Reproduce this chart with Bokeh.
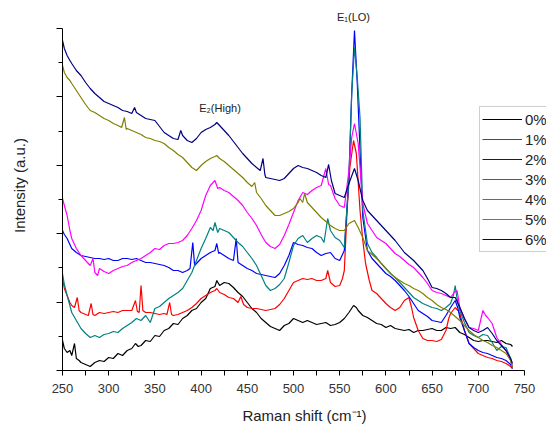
from bokeh.plotting import figure
from bokeh.models import Range1d, FixedTicker, Legend, LegendItem, Label
from bokeh.embed import file_html
from bokeh.resources import INLINE

FONT = "Liberation Sans"

names = ["0%", "1%", "2%", "3%", "4%", "5%", "6%"]
colors = ["#000000", "#ff0000", "#0000ff", "#008080", "#ff00ff", "#808000", "#000080"]

# (Raman shift, intensity) readings per series
s0 = [(250,30),(252,22),(255,18),(258,20),(260,15),(263,27),(265,12),(268,10),(270,8),(275,6),(280,4),(285,8),(290,10),(295,9),(300,13),(305,12),(310,17),(315,15),(320,20),(325,22),(329,27),(332,24),(335,25),(340,30),(345,29),(350,35),(355,34),(360,40),(365,42),(370,47),(375,46),(380,52),(385,55),(390,60),(395,62),(400,68),(405,72),(410,82),(415,84),(417,90),(420,85),(425,88),(430,87),(435,83),(440,78),(445,74),(450,68),(455,62),(460,58),(465,52),(470,48),(475,44),(480,42),(485,40),(490,45),(495,47),(500,52),(505,50),(510,48),(515,50),(520,48),(525,46),(530,47),(535,48),(540,45),(545,46),(550,48),(555,52),(560,58),(565,65),(568,63),(570,60),(575,55),(580,53),(585,50),(590,47),(595,46),(600,43),(605,45),(610,42),(615,41),(620,40),(625,41),(630,38),(635,40),(640,40),(645,41),(650,42),(655,40),(660,40),(665,43),(670,42),(675,43),(680,38),(685,36),(690,33),(695,30),(700,29),(705,30),(710,30),(715,29),(720,28),(725,30),(730,27),(735,26),(737,24)]
s1 = [(250,92),(252,82),(255,75),(258,68),(260,65),(263,63),(266,73),(268,60),(270,58),(275,56),(278,55),(281,67),(283,56),(285,55),(290,58),(295,57),(300,58),(305,59),(310,58),(315,60),(320,60),(325,60),(329,70),(331,59),(333,58),(335,85),(337,60),(340,58),(345,58),(350,57),(355,56),(360,57),(363,56),(366,68),(368,56),(370,55),(375,56),(380,58),(385,60),(390,63),(395,67),(400,72),(405,75),(410,78),(415,80),(417,82),(420,78),(425,76),(430,73),(435,72),(440,68),(443,74),(446,66),(450,63),(455,62),(460,62),(465,61),(470,60),(475,61),(480,62),(485,66),(490,72),(495,80),(500,88),(505,90),(510,92),(515,91),(520,92),(525,90),(530,90),(535,92),(537,100),(540,88),(545,84),(550,85),(553,92),(555,100),(558,160),(561,203),(565,230),(568,217),(572,160),(575,130),(578,107),(582,90),(585,80),(590,77),(595,72),(600,67),(605,63),(610,60),(615,63),(620,70),(625,73),(628,62),(630,53),(635,40),(640,32),(645,30),(650,30),(655,29),(660,31),(665,40),(668,52),(670,57),(675,63),(678,60),(680,57),(685,40),(690,27),(695,22),(700,17),(705,15),(710,13),(715,12),(720,10),(725,9),(730,7),(735,4),(737,2)]
s2 = [(250,140),(252,136),(255,132),(258,126),(260,122),(265,118),(270,115),(275,114),(280,113),(285,112),(290,112),(295,111),(300,112),(305,110),(310,110),(315,112),(320,112),(325,111),(330,112),(335,110),(340,108),(345,108),(350,107),(355,106),(360,105),(365,103),(370,100),(375,100),(380,98),(385,100),(388,102),(391,128),(393,105),(396,108),(400,112),(405,115),(410,118),(415,120),(417,127),(419,117),(420,118),(425,115),(430,112),(435,110),(438,132),(440,108),(445,105),(450,102),(455,100),(460,97),(465,96),(470,95),(475,94),(480,93),(485,97),(490,105),(495,115),(500,128),(505,126),(510,125),(515,123),(520,122),(525,118),(530,115),(535,117),(540,118),(545,112),(550,110),(555,120),(560,193),(563,277),(566,340),(569,287),(572,220),(575,153),(580,120),(585,112),(590,107),(595,102),(600,97),(605,94),(610,90),(615,85),(620,80),(625,74),(630,67),(635,60),(640,57),(645,54),(650,50),(655,49),(660,48),(665,55),(670,63),(675,70),(678,62),(680,53),(685,40),(690,27),(695,23),(700,20),(705,18),(710,17),(715,15),(720,13),(725,12),(730,10),(735,6),(737,2)]
s3 = [(250,97),(252,86),(255,75),(258,65),(260,58),(265,50),(270,42),(275,37),(280,33),(285,35),(290,33),(295,36),(300,37),(305,39),(310,38),(315,42),(320,45),(325,48),(330,52),(335,50),(340,55),(345,48),(350,62),(355,64),(360,68),(365,72),(370,75),(375,78),(380,82),(385,90),(390,98),(395,110),(400,122),(405,132),(410,143),(413,140),(415,148),(418,138),(420,142),(425,140),(430,138),(435,133),(440,128),(445,124),(450,118),(455,112),(460,105),(465,95),(470,85),(475,80),(480,82),(485,86),(490,92),(495,108),(500,125),(505,132),(510,135),(515,128),(520,132),(525,135),(530,133),(533,128),(537,152),(540,140),(545,133),(550,130),(555,123),(560,193),(563,277),(566,323),(569,293),(572,253),(575,160),(580,127),(585,118),(590,113),(595,107),(600,102),(605,97),(610,93),(615,88),(620,83),(625,78),(630,73),(635,70),(640,67),(645,65),(650,63),(655,62),(660,60),(665,63),(670,67),(673,75),(675,85),(677,72),(680,60),(685,48),(690,38),(695,35),(700,33),(705,36),(710,35),(715,28),(720,20),(725,24),(730,23),(735,12),(737,3)]
s4 = [(250,172),(252,165),(255,155),(258,140),(260,132),(265,122),(270,115),(275,110),(280,105),(283,112),(285,98),(288,95),(290,102),(295,99),(300,97),(305,100),(310,102),(315,104),(320,105),(325,108),(330,110),(335,112),(340,115),(345,118),(350,122),(355,121),(360,125),(365,127),(370,127),(375,128),(380,130),(385,135),(390,142),(395,150),(400,160),(405,175),(410,185),(413,188),(415,190),(418,182),(420,183),(425,180),(430,178),(435,174),(440,170),(445,165),(450,158),(455,152),(460,145),(465,136),(470,128),(475,124),(480,122),(485,126),(490,135),(495,146),(500,158),(505,170),(510,178),(515,176),(520,180),(525,183),(530,185),(535,202),(538,186),(540,185),(545,172),(550,165),(555,163),(560,200),(563,233),(566,247),(570,227),(575,167),(580,147),(585,140),(590,133),(595,130),(600,127),(605,122),(610,117),(615,114),(620,110),(625,106),(630,103),(635,98),(640,93),(645,87),(650,80),(655,78),(660,77),(665,75),(670,73),(674,78),(677,80),(680,63),(685,52),(690,43),(695,42),(700,40),(703,52),(705,60),(708,55),(710,53),(715,47),(720,33),(725,26),(730,20),(735,10),(737,3)]
s5 = [(250,305),(252,298),(255,293),(258,290),(260,287),(265,280),(270,273),(275,266),(280,260),(285,258),(290,255),(295,252),(300,250),(305,247),(310,245),(314,243),(317,253),(319,241),(320,242),(325,240),(330,238),(335,236),(340,233),(345,232),(350,230),(355,229),(360,227),(365,223),(370,220),(375,216),(380,213),(385,208),(390,203),(395,200),(400,205),(405,209),(410,212),(415,214),(417,215),(420,212),(425,209),(430,205),(435,201),(440,197),(445,193),(450,188),(455,184),(458,188),(460,178),(465,172),(470,165),(475,160),(480,155),(485,155),(490,157),(495,159),(500,162),(505,168),(507,172),(510,168),(512,177),(515,168),(520,163),(525,158),(530,153),(535,149),(540,145),(545,142),(550,140),(555,140),(560,147),(566,150),(570,143),(575,133),(580,120),(585,116),(590,112),(595,107),(600,102),(605,97),(610,93),(615,90),(620,87),(625,85),(630,82),(635,80),(640,77),(645,73),(650,70),(655,66),(660,63),(665,61),(670,58),(675,54),(680,50),(685,45),(690,40),(695,36),(700,33),(705,30),(710,28),(715,25),(720,23),(725,20),(730,17),(735,10),(737,3)]
s6 = [(250,330),(252,322),(255,315),(258,310),(260,307),(265,300),(270,295),(275,288),(280,282),(285,277),(290,273),(295,269),(300,267),(305,265),(310,263),(315,260),(320,259),(325,257),(328,263),(330,258),(335,255),(340,252),(345,251),(350,250),(355,244),(360,238),(365,235),(370,232),(375,231),(378,240),(380,235),(385,230),(390,228),(395,232),(400,238),(405,241),(410,243),(415,246),(417,248),(420,245),(425,240),(430,235),(435,229),(440,223),(445,217),(450,212),(455,207),(460,203),(464,200),(467,212),(469,196),(470,193),(475,192),(480,191),(485,190),(490,192),(495,197),(500,202),(505,205),(510,203),(515,202),(520,200),(525,198),(530,195),(535,193),(538,206),(541,190),(545,177),(550,175),(555,173),(560,187),(566,202),(570,190),(575,170),(580,160),(585,155),(590,150),(595,145),(600,140),(605,135),(610,130),(615,124),(620,118),(625,114),(630,110),(635,105),(640,100),(645,92),(650,83),(655,82),(660,80),(665,77),(670,73),(675,73),(680,63),(685,52),(690,43),(695,40),(700,38),(705,40),(710,43),(715,37),(720,30),(725,25),(730,20),(735,12),(737,7)]

series = [s0, s1, s2, s3, s4, s5, s6]

x_major = [250, 300, 350, 400, 450, 500, 550, 600, 650, 700, 750]
x_minor = [275, 325, 375, 425, 475, 525, 575, 625, 675, 725]
y_major = [0, 68.4, 136.8, 205.2, 273.6, 342]
y_minor = [34.2, 102.6, 171.0, 239.4, 307.8]

p = figure(width=546, height=430, output_backend="svg", toolbar_location=None,
           x_range=Range1d(250, 250 + 484 / 0.924), y_range=Range1d(0, 370),
           min_border_left=62, min_border_right=0, min_border_top=0, min_border_bottom=60)
p.outline_line_color = None
p.grid.visible = False
p.background_fill_color = "white"
p.border_fill_color = "white"

items = []
for name, c, s in zip(names, colors, series):
    xv = [a for a, b in s]
    yv = [b for a, b in s]
    r = p.line(xv, yv, line_color=c, line_width=1.2)
    items.append(LegendItem(label=name, renderers=[r]))

xa = p.xaxis[0]
xa.bounds = (250, 750)
xa.ticker = FixedTicker(ticks=x_major, minor_ticks=x_minor)
xa.major_tick_in = 0
xa.major_tick_out = 5
xa.minor_tick_in = 0
xa.minor_tick_out = 5
xa.major_label_text_font = FONT
xa.major_label_text_font_size = "13px"
xa.major_label_text_color = "#333333"
xa.major_label_standoff = 8
xa.axis_label = "Raman shift (cm\u207b\u00b9)"
xa.axis_label_text_font = FONT
xa.axis_label_text_font_style = "normal"
xa.axis_label_text_font_size = "15px"
xa.axis_label_text_color = "#222222"
xa.axis_label_standoff = 11

ya = p.yaxis[0]
ya.bounds = (0, 342)
ya.ticker = FixedTicker(ticks=y_major, minor_ticks=y_minor)
ya.major_label_overrides = {t: "" for t in y_major}
ya.major_tick_in = 0
ya.major_tick_out = 6
ya.minor_tick_in = 0
ya.minor_tick_out = 4
ya.axis_label = "Intensity (a.u.)"
ya.axis_label_text_font = FONT
ya.axis_label_text_font_style = "normal"
ya.axis_label_text_font_size = "15px"
ya.axis_label_text_color = "#222222"
ya.axis_label_standoff = 29

legend = Legend(items=items, location=(417, 118))
legend.label_text_font = FONT
legend.label_text_font_size = "15px"
legend.label_text_color = "#222222"
legend.glyph_width = 40
legend.glyph_height = 20
legend.label_height = 20
legend.label_standoff = 3
legend.spacing = 0
legend.padding = 2
legend.margin = 0
legend.border_line_color = "#a0a0a0"
legend.border_line_width = 1
legend.background_fill_alpha = 1.0
p.add_layout(legend)

p.add_layout(Label(x=398, y=263, text="E\u2082(High)", text_font=FONT, text_font_size="11px",
                   text_color="#222222", text_baseline="alphabetic"))
p.add_layout(Label(x=547, y=354, text="E\u2081(LO)", text_font=FONT, text_font_size="11px",
                   text_color="#222222", text_baseline="alphabetic"))

open("out.html", "w").write(file_html(p, INLINE))
